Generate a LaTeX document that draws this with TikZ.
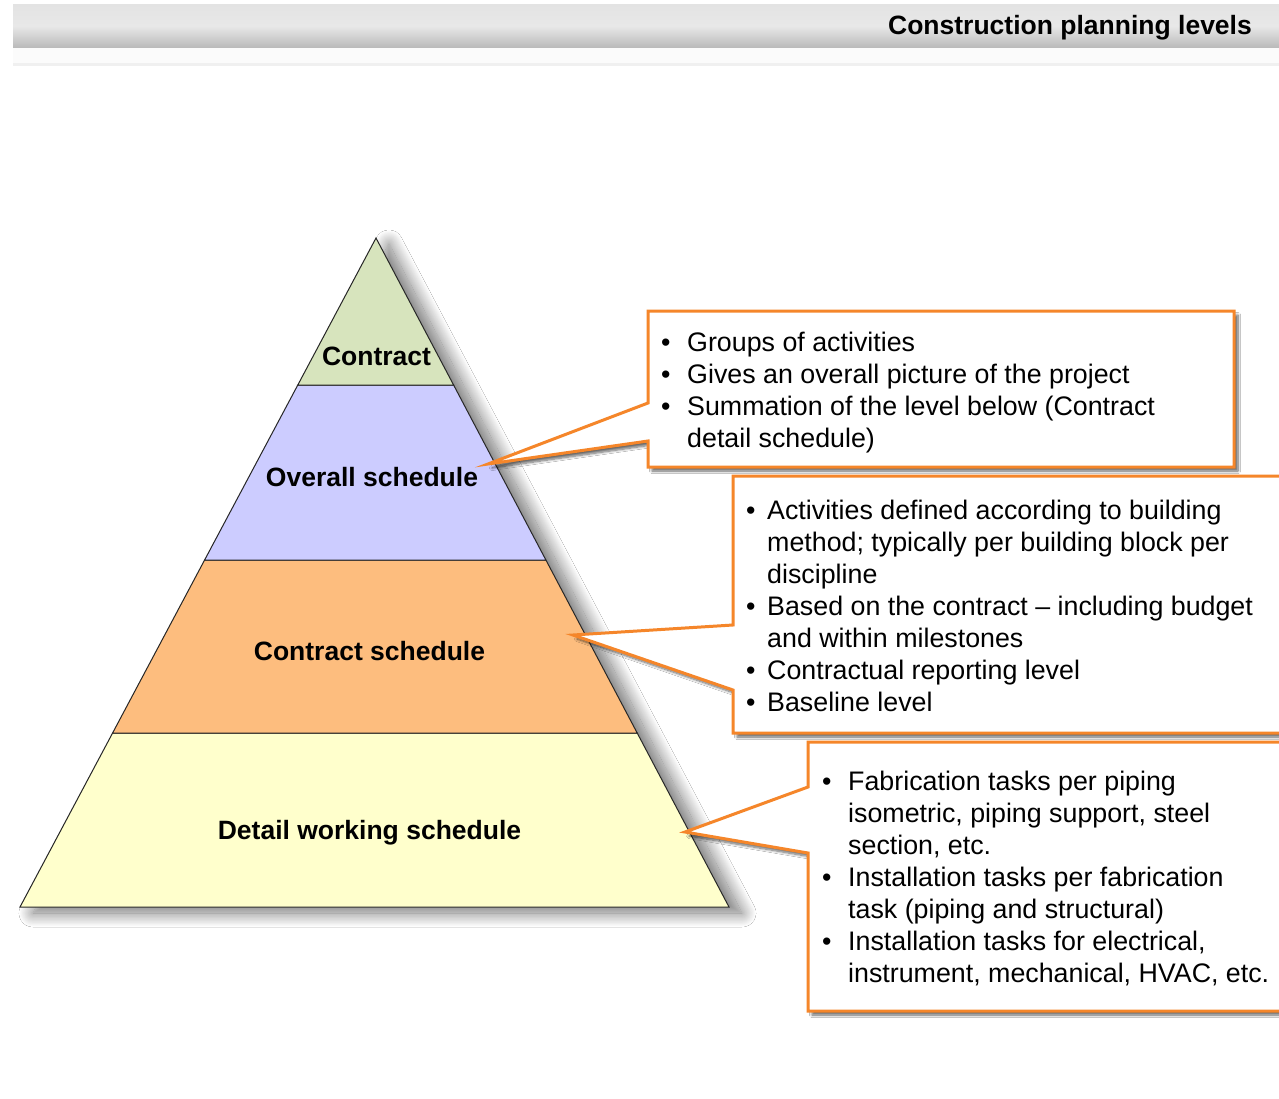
\documentclass[tikz,border=0pt]{standalone}
\usepackage{fontspec}
\setmainfont{Liberation Sans}
\usetikzlibrary{shadows.blur}
\definecolor{callor}{HTML}{F5862A}
\definecolor{lgreen}{HTML}{D7E4BD}
\definecolor{lviolet}{HTML}{CCCCFF}
\definecolor{lorange}{HTML}{FDBD7E}
\definecolor{lyellow}{HTML}{FFFFCC}
\newcommand{\bp}[1]{\makebox[#1][l]{•}}
\newcommand{\bc}[1]{\hspace*{#1}}
\begin{document}
\begin{tikzpicture}[x=1pt,y=-1pt,
  layer/.style={draw=black!85, line width=1pt, line join=miter},
  lab/.style={font=\fontsize{26.5}{31}\selectfont\bfseries, anchor=base, inner sep=0pt},
  callout/.style={draw=callor, line width=3pt, fill=white, line join=miter,
    blur shadow={shadow xshift=4pt, shadow yshift=-4pt, shadow blur radius=2.5pt, shadow blur steps=8, shadow opacity=60}},
  btext/.style={font=\fontsize{26.8}{32}\selectfont, align=left, anchor=north west, inner sep=0pt}
]
\useasboundingbox (0,0) rectangle (1279,1098);
\clip (0,0) rectangle (1279,1098);
\fill[white] (0,0) rectangle (1279,1098);

% header bar
\shade[top color=gray!22, bottom color=gray!55, middle color=gray!18] (13,4) rectangle (1279,48);
\fill[gray!3] (13,48) rectangle (1279,63);
\fill[gray!12] (13,63) rectangle (1279,66);
\node[font=\fontsize{26.5}{30}\selectfont\bfseries, anchor=base east, inner sep=0pt] (title) at (1252,34) {Construction planning levels};

% pyramid coordinates
\coordinate (apex) at (376,238);
\coordinate (l1) at (297.8,385); \coordinate (r1) at (453.6,385);
\coordinate (l2) at (204.6,560); \coordinate (r2) at (545.9,560);
\coordinate (l3) at (112.6,733); \coordinate (r3) at (637.2,733);
\coordinate (bl) at (20,907);    \coordinate (br) at (729,907);

% shadow of the pyramid
\fill[white, blur shadow={shadow xshift=13pt, shadow yshift=-6pt, shadow blur radius=14pt, shadow blur steps=24, shadow opacity=55}] (apex) -- (br) -- (bl) -- cycle;

\filldraw[layer, fill=lyellow] (l3) -- (r3) -- (br) -- (bl) -- cycle;
\filldraw[layer, fill=lorange] (l2) -- (r2) -- (r3) -- (l3) -- cycle;
\filldraw[layer, fill=lviolet] (l1) -- (r1) -- (r2) -- (l2) -- cycle;
\filldraw[layer, fill=lgreen] (apex) -- (r1) -- (l1) -- cycle;

\node[lab] (contract) at (376.5,365) {Contract};
\node[lab] (overall) at (372,486) {Overall schedule};
\node[lab] (cschedule) at (369.5,660) {Contract schedule};
\node[lab] (detail) at (369.5,839) {Detail working schedule};

% callout 1
\coordinate (tip1) at (488,464);
\filldraw[callout] (648,311) -- (1234,311) -- (1234,467) -- (648,467) -- (648,441) -- (tip1) -- (648,403) -- cycle;
\node[btext] (box1) at (661,332) {\bp{26pt}Groups of activities\\
\bp{26pt}Gives an overall picture of the project\\
\bp{26pt}Summation of the level below (Contract\\
\bc{26pt}detail schedule)};

% callout 2
\coordinate (tip2) at (573,635);
\filldraw[callout] (733,476) -- (1300,476) -- (1300,733) -- (733,733) -- (733,690) -- (tip2) -- (733,625) -- cycle;
\node[btext] (box2) at (746,500) {\bp{21pt}Activities defined according to building\\
\bc{21pt}method; typically per building block per\\
\bc{21pt}discipline\\
\bp{21pt}Based on the contract – including budget\\
\bc{21pt}and within milestones\\
\bp{21pt}Contractual reporting level\\
\bp{21pt}Baseline level};

% callout 3
\coordinate (tip3) at (685,832);
\filldraw[callout] (808,742) -- (1300,742) -- (1300,1011) -- (808,1011) -- (808,853) -- (tip3) -- (808,787) -- cycle;
\node[btext] (box3) at (822,771) {\bp{26pt}Fabrication tasks per piping\\
\bc{26pt}isometric, piping support, steel\\
\bc{26pt}section, etc.\\
\bp{26pt}Installation tasks per fabrication\\
\bc{26pt}task (piping and structural)\\
\bp{26pt}Installation tasks for electrical,\\
\bc{26pt}instrument, mechanical, HVAC, etc.};
\end{tikzpicture}
\end{document}
